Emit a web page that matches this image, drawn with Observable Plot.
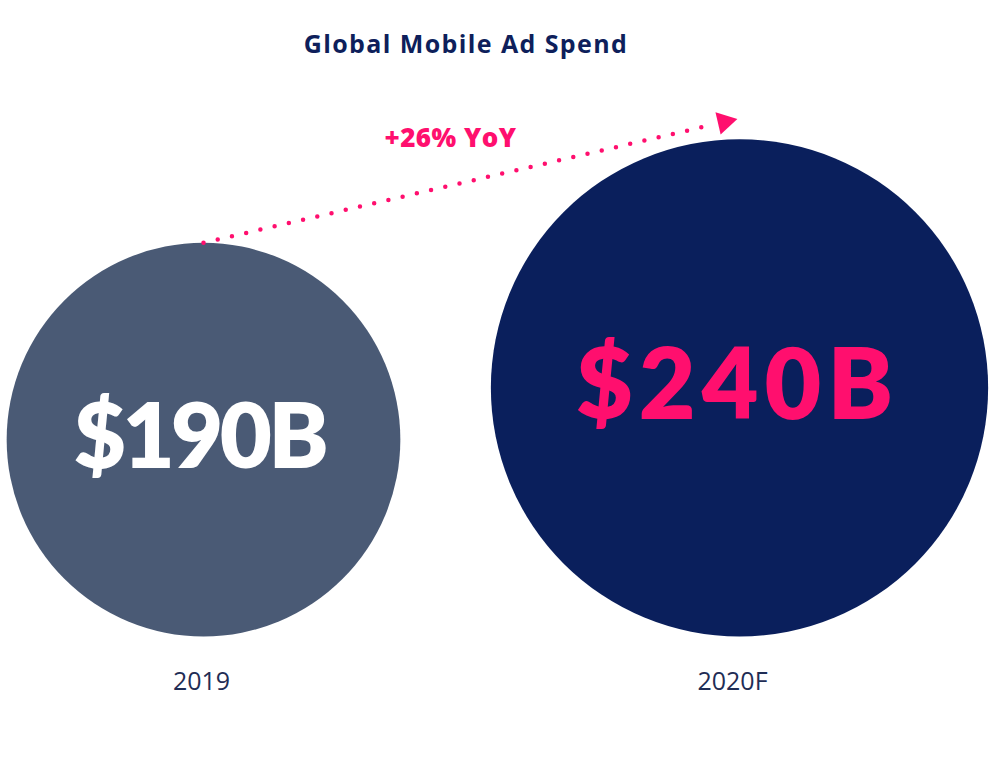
<!DOCTYPE html>
<html>
<head>
<meta charset="utf-8">
<script src="https://cdn.jsdelivr.net/npm/d3@7"></script>
<script src="https://cdn.jsdelivr.net/npm/@observablehq/plot@0.6"></script>
<style>
  html, body { margin: 0; padding: 0; background: #fff; }
  #title {
    width: 932px; height: 70px; box-sizing: border-box; padding-top: 29px;
    text-align: center; font-family: "Open Sans", sans-serif; font-weight: 700;
    font-size: 25px; line-height: 28px; color: #0e1f5b; letter-spacing: 1.4px;
  }
  #chart svg { display: block; }
</style>
</head>
<body>
<div id="title">Global Mobile Ad Spend</div>
<div id="chart"></div>
<script>
// ---- data ----
const categories = ["2019", "2020F"];
const values = [190, 240];
const valueLabels = ["$190B", "$240B"];
const growthLabel = "+26% YoY";

// ---- styles ----
const circleColors = ["#4a5a75", "#0a1f5c"];
const pink = "#ff0f6e";
const numFont = "Lato, sans-serif";
const textFont = "'Open Sans', sans-serif";

const data = categories.map((c, i) => ({i, category: c, value: values[i], label: valueLabels[i]}));

// arrow from top of first circle toward above second circle
const arrowStart = {x: 0, y: 2 * values[0]};
const arrowEnd = {x: 1, y: 2 * values[1] + 20};
const lerp = (t) => ({x: arrowStart.x + (arrowEnd.x - arrowStart.x) * t, y: arrowStart.y + (arrowEnd.y - arrowStart.y) * t});
const dotsEnd = lerp(0.93);
const head = lerp(0.972);
const mid = lerp(0.5);

const k = 1.036; // px per unit
const base = 566;

const plot = Plot.plot({
  width: 1000,
  height: 696,
  margin: 0,
  style: {fontFamily: textFont, background: "transparent"},
  x: {type: "linear", domain: [0, 1], range: [203, 739], axis: null},
  y: {type: "linear", domain: [0, 240], range: [base, base - 240 * k], axis: null},
  r: {type: "linear", domain: [0, 240], range: [0, 240 * k]},
  color: {domain: categories, range: circleColors},
  marks: [
    Plot.dot(data, {x: "i", y: "value", r: "value", fill: "category", stroke: null}),
    Plot.text(data.filter(d => d.i === 0), {x: "i", y: "value", text: "label", fill: "#ffffff", fontSize: 90, fontWeight: 800, fontFamily: numFont, dx: -4}),
    Plot.text(data.filter(d => d.i === 1), {x: "i", y: "value", text: "label", fill: pink, fontSize: 98, fontWeight: 800, fontFamily: numFont, dx: -2}),
    Plot.text(data.filter(d => d.i === 0), {x: "i", y: 0, text: "category", fill: "#1f2d55", fontSize: 25, dy: 45, dx: -2}),
    Plot.text(data.filter(d => d.i === 1), {x: "i", y: 0, text: "category", fill: "#1f2d55", fontSize: 25, dy: 45, dx: -7}),
    Plot.link([{x1: arrowStart.x, y1: arrowStart.y, x2: dotsEnd.x, y2: dotsEnd.y}], {
      x1: "x1", y1: "y1", x2: "x2", y2: "y2", stroke: pink, strokeWidth: 4.5,
      strokeDasharray: "0 14.6", strokeLinecap: "round"
    }),
    Plot.dot([head], {x: "x", y: "y", symbol: "triangle", r: 8.5, fill: pink, stroke: null, rotate: 77}),
    Plot.text([mid], {x: "x", y: "y", text: () => growthLabel, fill: pink, fontSize: 26, fontWeight: 800, dx: -21, dy: -42})
  ]
});
// typographic spacing tweaks
const textGroups = d3.select(plot).selectAll("g[aria-label='text']").nodes();
d3.select(textGroups[0]).selectAll("text").style("letter-spacing", "-3.5px");
d3.select(textGroups[1]).selectAll("text").style("letter-spacing", "6px");
d3.select(textGroups[4]).selectAll("text").style("letter-spacing", "0.5px");
document.getElementById("chart").appendChild(plot);
</script>
</body>
</html>
